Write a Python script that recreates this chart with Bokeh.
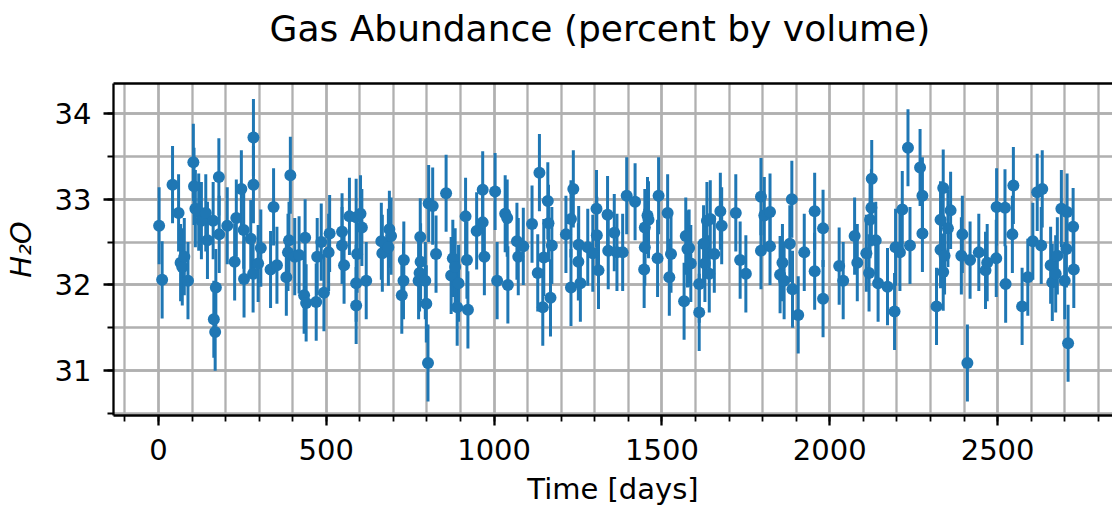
from bokeh.plotting import figure
from bokeh.models import Range1d, LinearAxis, SingleIntervalTicker, FixedTicker
from bokeh.embed import file_html
from bokeh.resources import INLINE

days = [2, 11, 42, 60, 66, 71, 77, 88, 104, 106, 110, 120, 128, 141, 146, 163, 165, 169, 171, 180,
        181, 205, 227, 232, 247, 254, 255, 275, 282, 283, 283, 297, 305, 334, 343, 353, 381, 386, 389, 393,
        406, 419, 434, 437, 440,
        470, 473, 485, 493, 507, 510, 547, 547, 553, 569, 589, 589, 589, 592, 602, 606, 619, 664, 667, 685,
        688, 693, 725, 730, 731, 775, 778, 780, 781, 795, 798, 803, 805, 817, 827, 857, 872, 877, 884, 890,
        894, 915, 919, 922, 948, 966, 966, 971, 1003, 1009,
        1033, 1039, 1041, 1068, 1072, 1087, 1113, 1130, 1135, 1145, 1148, 1160, 1162, 1168, 1172, 1214, 1229, 1229, 1236, 1251,
        1252, 1257, 1279, 1294, 1305, 1306, 1311, 1338, 1340, 1358, 1366, 1383, 1395, 1420, 1447, 1449, 1449, 1457, 1460, 1487,
        1490, 1517, 1522, 1527, 1566, 1571, 1576,
        1581, 1586, 1611, 1611, 1624, 1628, 1634, 1641, 1644, 1656, 1674, 1678, 1720, 1733, 1750, 1795, 1795, 1805, 1822, 1822,
        1852, 1859, 1864, 1881, 1887, 1889, 1906, 1924, 1955, 1955, 1980, 1980, 2028, 2040, 2074, 2082, 2109, 2117, 2120, 2124,
        2125, 2137, 2144,
        2172, 2193, 2196, 2209, 2216, 2233, 2239, 2269, 2276, 2276, 2318, 2330, 2330, 2338, 2338, 2342, 2352, 2360, 2392, 2395,
        2410, 2418, 2444, 2464, 2469, 2496, 2497, 2522, 2524, 2544, 2547, 2573, 2590, 2605, 2618, 2630, 2633, 2658, 2663, 2673,
        2678, 2690, 2700, 2705, 2707, 2710, 2725, 2727]

h2o = [32.69, 32.06, 33.17, 32.84, 32.26, 32.21, 32.33, 32.05, 33.43, 33.15, 32.89, 32.85, 32.75, 32.84, 32.52, 32.75, 31.60, 31.45, 31.97, 33.26,
       32.59, 32.69, 32.27, 32.78, 33.12, 32.64, 32.07, 32.54, 32.13, 33.72, 33.17, 32.25, 32.43, 32.18, 32.91, 32.23, 32.09, 32.38, 32.52, 33.28,
       32.33, 32.35, 31.88, 32.55, 31.79,
       31.80, 32.33, 32.50, 31.91, 32.38, 32.60, 32.62, 32.46, 32.23, 32.80, 32.79, 32.02, 31.76, 32.36, 32.83, 32.67, 32.05, 32.51, 32.37, 32.44,
       32.65, 32.57, 31.88, 32.05, 32.29, 32.05, 32.14, 32.56, 32.27, 32.05, 31.78, 31.09, 32.95, 32.92, 32.36, 33.07, 32.11, 32.31, 32.21, 31.74,
       32.02, 32.80, 32.29, 31.71, 32.63, 33.11, 32.73, 32.33, 33.09, 32.05,
       32.83, 32.78, 32.00, 32.51, 32.33, 32.45, 32.71, 32.14, 33.31, 31.74, 32.32, 32.98, 32.72, 31.85, 32.46, 32.59, 32.77, 31.97, 33.12, 32.27,
       32.47, 32.02, 32.44, 32.37, 32.89, 32.58, 32.17, 32.82, 32.40, 32.61, 32.38, 32.38, 33.04, 32.97, 32.18, 32.67, 32.44, 32.81, 32.76, 32.31,
       33.04, 32.84, 32.09, 32.36, 31.81, 32.57, 32.42,
       32.43, 32.25, 32.01, 31.68, 32.48, 32.25, 32.75, 32.13, 32.77, 32.36, 32.86, 32.69, 32.84, 32.29, 32.13, 33.03, 32.40, 32.81, 32.85, 32.45,
       32.12, 32.26, 32.05, 32.48, 33.00, 31.95, 31.65, 32.38, 32.86, 32.16, 32.66, 31.84, 32.22, 32.05, 32.57, 32.26, 32.37, 32.14, 32.76, 32.90,
       33.24, 32.52, 32.02,
       31.98, 31.69, 32.44, 32.38, 32.88, 33.60, 32.46, 33.37, 33.04, 32.60, 31.75, 32.76, 32.41, 33.13, 32.15, 32.34, 32.66, 32.87, 32.34, 32.59,
       31.09, 32.29, 32.38, 32.17, 32.26, 32.31, 32.91, 32.90, 32.01, 32.59, 33.16, 31.75, 32.09, 32.51, 33.08, 32.46, 33.12, 32.23, 32.03, 32.13,
       32.34, 32.89, 32.05, 32.42, 32.85, 31.32, 32.68, 32.18]

YERR = 0.45  # half-length of every error bar

title_text = "Gas Abundance (percent by volume)"
x_label = "Time [days]"
y_label = "H\u2082O"

FONT = "DejaVu Sans"
BLUE = "#1f77b4"
GRID = "#b0b0b0"

lower = [v - YERR for v in h2o]
upper = [v + YERR for v in h2o]

p = figure(width=1112, height=510,
           x_range=Range1d(-133.9, 2842.3), y_range=Range1d(30.477, 34.35),
           output_backend="svg", toolbar_location=None,
           min_border_left=112, min_border_right=0, min_border_top=83, min_border_bottom=95,
           x_axis_label=x_label, y_axis_label=y_label)

p.outline_line_color = None
p.background_fill_color = "white"
p.border_fill_color = "white"

# Title
p.title.text = title_text
p.title.text_font = FONT
p.title.text_font_size = "36px"
p.title.text_font_style = "normal"
p.title.text_color = "black"
p.title.align = "left"
p.title.offset = 156

xt = SingleIntervalTicker(interval=500, num_minor_ticks=5)
yt = SingleIntervalTicker(interval=1, num_minor_ticks=2)
p.xaxis.ticker = xt
p.yaxis.ticker = yt
p.xgrid.ticker = xt
p.ygrid.ticker = yt

for ax in (p.xaxis[0], p.yaxis[0]):
    ax.axis_line_color = "black"
    ax.axis_line_width = 2.3
    ax.major_tick_line_color = "black"
    ax.major_tick_line_width = 2.3
    ax.major_tick_in = 0
    ax.major_tick_out = 10
    ax.minor_tick_line_color = "black"
    ax.minor_tick_line_width = 1.8
    ax.minor_tick_in = 0
    ax.minor_tick_out = 6
    ax.major_label_text_font = FONT
    ax.major_label_text_font_size = "29px"
    ax.major_label_text_color = "black"
    ax.axis_label_text_font = FONT
    ax.axis_label_text_font_size = "29px"
    ax.axis_label_text_color = "black"

p.xaxis.major_label_standoff = 13
p.xaxis.axis_label_standoff = 9
p.xaxis.axis_label_text_font_style = "normal"
p.yaxis.major_label_standoff = 12
p.yaxis.axis_label_standoff = 14
p.yaxis.axis_label_text_font_style = "italic"

# top spine
top = LinearAxis(ticker=FixedTicker(ticks=[]), axis_line_color="black", axis_line_width=2.3,
                 major_tick_line_color=None, minor_tick_line_color=None,
                 major_label_text_font_size="0px")
p.add_layout(top, "above")

# invisible spacer that lifts the title away from the frame
spacer = LinearAxis(ticker=FixedTicker(ticks=[]), axis_line_color=None,
                    major_tick_line_color=None, minor_tick_line_color=None, major_tick_out=0,
                    major_label_text_font_size="0px",
                    axis_label=" ", axis_label_text_font_size="20px", axis_label_standoff=5,
                    axis_label_text_color=None)
p.add_layout(spacer, "above")

for g in (p.xgrid[0], p.ygrid[0]):
    g.grid_line_color = GRID
    g.grid_line_width = 2.3
    g.minor_grid_line_color = GRID
    g.minor_grid_line_width = 2.3

p.segment(x0=days, y0=lower, x1=days, y1=upper, line_color=BLUE, line_width=3)
p.scatter(x=days, y=h2o, size=12, marker="circle", fill_color=BLUE, line_color=BLUE, line_width=0)

open("out.html", "w").write(file_html(p, INLINE))
